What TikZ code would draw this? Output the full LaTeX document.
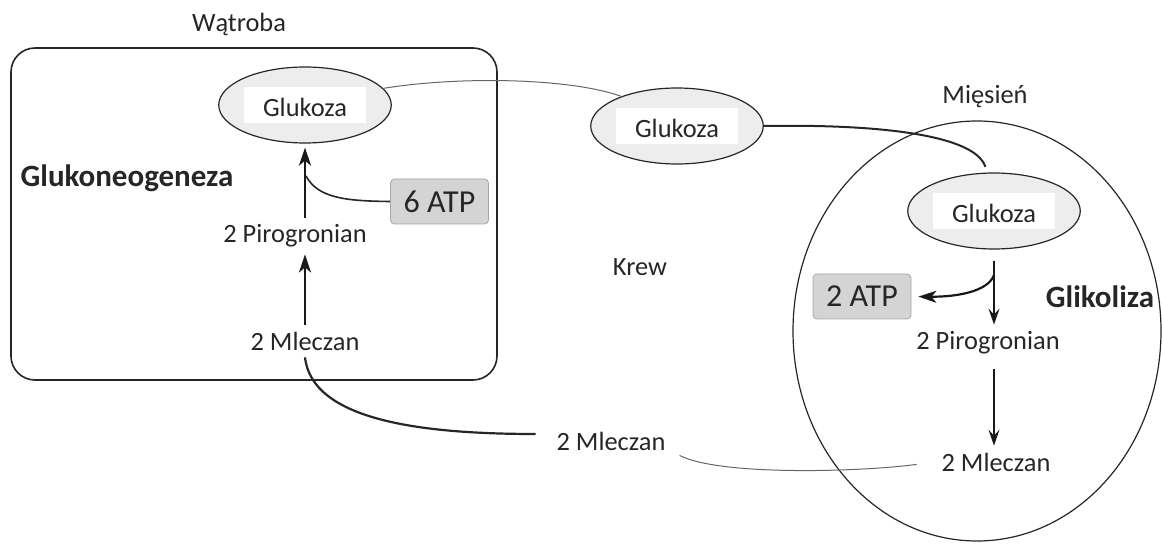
\documentclass[tikz,border=0pt]{standalone}
\usepackage{fontspec}
\setmainfont{Carlito}
\usetikzlibrary{positioning, shapes.geometric, arrows.meta}

% white label box inside the glucose ellipses
\newcommand{\glubox}[1]{{\setlength{\fboxsep}{3pt}\colorbox{white}{\makebox[55pt]{\rule{0pt}{11.5pt}#1}}}}

\begin{document}
\begin{tikzpicture}[
    x=0.5pt, y=-0.5pt,
    every node/.style={font=\fontsize{13.2}{15}\selectfont, text=black!85},
    glucose/.style={ellipse, draw=black!85, fill=black!7, line width=0.6pt,
        minimum width=77pt, minimum height=38pt, inner sep=0pt},
    atpbox/.style={draw=black!35, fill=black!17, rounded corners=2pt,
        minimum width=49pt, minimum height=22.5pt, inner sep=0pt,
        font=\fontsize{16}{18}\selectfont},
    pathway/.style={font=\bfseries\fontsize{15.5}{18}\selectfont},
    flow/.style={line width=1.3pt, black!90, -{Stealth[length=9pt, width=6pt, inset=2.5pt]}},
    thinflow/.style={line width=0.8pt, black!90, -{Stealth[length=8pt, width=5.5pt, inset=3pt]}},
    link/.style={line width=0.5pt, black!60}
]
\useasboundingbox (0,0) rectangle (1162,545);

% Liver
\node (liver) [draw=black!85, line width=0.8pt, rounded corners=12pt,
    minimum width=243pt, minimum height=166pt] at (254,214) {};
\node (liverName) at (239,24) {Wątroba};
\node (glucL) [glucose] at (305,105) {\glubox{Glukoza}};
\node (gng) [pathway] at (127,178) {Glukoneogeneza};
\node (atpL) [atpbox] at (439.5,201.5) {6 ATP};
\node (pyrL) at (295,236) {2 Pirogronian};
\node (lacL) at (305,341) {2 Mleczan};

% Blood
\node (glucB) [glucose] at (677,126) {\glubox{Glukoza}};
\node (blood) at (640,267) {Krew};
\node (lacB) at (611,441) {2 Mleczan};

% Muscle
\node (muscle) [ellipse, draw=black!85, line width=0.6pt,
    minimum width=184pt, minimum height=210pt] at (977,331) {};
\node (muscleName) at (985,97) {Mięsień};
\node (glucM) [glucose] at (994,211) {\glubox{Glukoza}};
\node (atpM) [atpbox] at (862,296.5) {2 ATP};
\node (glyc) [pathway] at (1100,297) {Glikoliza};
\node (pyrM) at (988,343) {2 Pirogronian};
\node (lacM) at (996,462) {2 Mleczan};

% gluconeogenesis
\draw[flow] (lacL.north -| glucL) -- (pyrL.south -| glucL);
\draw[flow, shorten >=2pt] (pyrL.north -| glucL) -- (glucL.south);
\coordinate (joinL) at (306,176);
\draw[line width=0.8pt, black!85] (atpL.west) .. controls (345,201) and (318,198) .. (joinL);

% transport through the blood
\draw[link] (glucL.12) .. controls (460,76) and (570,78) .. (glucB.152);
\draw[line width=1pt, black!85, shorten >=3pt] (glucB.east) .. controls (880,124) and (975,135) .. (glucM.100);
\draw[line width=1.1pt, black!85, shorten >=7pt] (lacL.south) .. controls (312,420) and (420,434) .. ([yshift=3.5pt]lacB.west);
\draw[link, shorten <=4pt, shorten >=9pt] (lacB.-10) .. controls (720,476) and (860,472) .. (lacM.west);

% glycolysis
\draw[thinflow] ([yshift=-5.5pt]glucM.south) -- (pyrM.north -| glucM);
\coordinate (splitM) at (994,275);
\draw[flow, line width=1.1pt, shorten >=3.5pt] (splitM) .. controls (988,292) and (955,297) .. (atpM.east);
\draw[thinflow, shorten <=4pt] (pyrM.south -| glucM) -- (lacM.north -| glucM);

\end{tikzpicture}
\end{document}
